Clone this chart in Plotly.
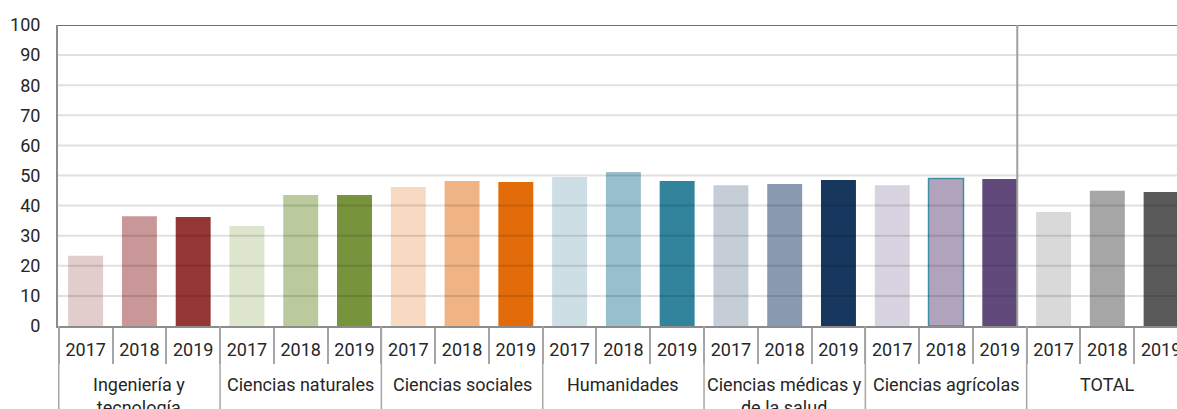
import plotly.graph_objects as go

# Field groups and years on the category axis
fields = [
    "Ingeniería y<br>tecnología",
    "Ciencias naturales",
    "Ciencias sociales",
    "Humanidades",
    "Ciencias médicas y<br>de la salud",
    "Ciencias agrícolas",
    "TOTAL",
]
years = ["2017", "2018", "2019"]

# Values per field, in year order
ingenieria = [23.3, 36.5, 36.2]
naturales = [33.2, 43.5, 43.5]
sociales = [46.2, 48.2, 47.8]
humanidades = [49.5, 51.2, 48.2]
medicas = [46.8, 47.2, 48.5]
agricolas = [46.8, 49.0, 48.8]
total = [37.9, 44.9, 44.5]

# One shade ramp per field (light -> dark)
palette = [
    ["#E3CCCC", "#C99797", "#943634"],
    ["#DDE5CD", "#BACA9C", "#77933C"],
    ["#F8DAC2", "#F0B384", "#E36C0A"],
    ["#CDDFE5", "#98BFCC", "#31849B"],
    ["#C5CDD7", "#8A9AB0", "#17375E"],
    ["#D8D3E0", "#B1A3BC", "#604A7B"],
    ["#D9D9D9", "#A6A6A6", "#595959"],
]

series = [ingenieria, naturales, sociales, humanidades, medicas, agricolas, total]

keys, year_text, y_vals, colors = [], [], [], []
for f, vals, shades in zip(fields, series, palette):
    for yr, v, c in zip(years, vals, shades):
        keys.append(f"{f} | {yr}")
        year_text.append(yr)
        y_vals.append(v)
        colors.append(c)

# Outline on the agricultural 2018 bar
line_widths = [0] * len(y_vals)
line_colors = ["rgba(0,0,0,0)"] * len(y_vals)
hl = fields.index("Ciencias agrícolas") * 3 + 1
line_widths[hl] = 1.5
line_colors[hl] = "#3F8EA6"

BARGAP = 0.35

fig = go.Figure(
    go.Bar(
        x=keys,
        y=y_vals,
        marker=dict(color=colors, line=dict(width=line_widths, color=line_colors)),
        showlegend=False,
    )
)

DIV = "#A6A6A6"
n_groups = len(fields)
n_years = len(years)

shapes = []
# Horizontal grid, drawn over the bars
for g in range(10, 100, 10):
    shapes.append(dict(type="line", xref="paper", x0=0, x1=1, yref="y", y0=g, y1=g,
                       line=dict(color="rgba(0,0,0,0.12)", width=2), layer="above"))
# Frame line along the top of the plot
shapes.append(dict(type="line", xref="paper", x0=0, x1=1, yref="y", y0=100, y1=100,
                   line=dict(color="#404040", width=1.5), layer="above"))
# Group dividers running down through the label rows
for i in range(n_groups):
    xb = i * n_years - 0.5
    shapes.append(dict(type="line", xref="x", x0=xb, x1=xb, yref="paper", y0=-0.35, y1=0,
                       line=dict(color=DIV, width=1.5), layer="above"))
# Vertical rule inside the plot, flush with the last bar before TOTAL
last_bar = (n_groups - 1) * n_years - 1
xr = last_bar + (1 - BARGAP) / 2
shapes.append(dict(type="line", xref="x", x0=xr, x1=xr, yref="y", y0=0, y1=100,
                   line=dict(color="#A0A0A0", width=2), layer="above"))

# Field names under the years
annotations = []
for i, f in enumerate(fields):
    annotations.append(dict(
        x=i * n_years + 1, xref="x", y=-0.152, yref="paper",
        text=f, showarrow=False, xanchor="center", yanchor="top",
        font=dict(family="Roboto", size=18, color="#262626"),
    ))

fig.update_layout(
    width=1188,
    height=409,
    margin=dict(l=58, r=0, t=25, b=83),
    paper_bgcolor="white",
    plot_bgcolor="white",
    bargap=BARGAP,
    font=dict(family="Roboto", size=18, color="#262626"),
    shapes=shapes,
    annotations=annotations,
    xaxis=dict(
        type="category",
        tickmode="array",
        tickvals=keys,
        ticktext=year_text,
        tickson="boundaries",
        showline=True,
        linecolor="#8C8C8C",
        linewidth=2,
        ticks="outside",
        ticklen=36,
        tickcolor=DIV,
        tickwidth=1.5,
        ticklabelstandoff=6,
        showgrid=False,
        tickfont=dict(family="Roboto", size=18, color="#262626"),
    ),
    yaxis=dict(
        range=[0, 100],
        dtick=10,
        showgrid=False,
        zeroline=False,
        showline=True,
        linecolor="#8C8C8C",
        linewidth=2,
        ticks="",
        ticklabelstandoff=12,
        tickfont=dict(family="Roboto", size=18, color="#262626"),
    ),
)

fig.write_html("out.html")
